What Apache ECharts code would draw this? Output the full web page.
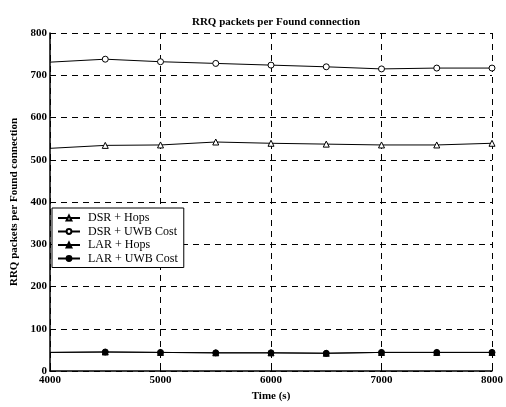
<!DOCTYPE html>
<html><head><meta charset="utf-8">
<script src="https://cdn.jsdelivr.net/npm/echarts@6/dist/echarts.min.js"></script>
<style>html,body{margin:0;padding:0;background:#fff}#c{width:506px;height:407px}</style>
</head><body><div id="c"></div>
<script>
const times = [4000, 4500, 5000, 5500, 6000, 6500, 7000, 7500, 8000];
const dsrHops = [527, 534, 535, 542, 539, 537, 535, 535, 539];
const dsrUwb = [731, 738, 732, 728, 724, 720, 715, 717, 717];
const larHops = [44, 45, 44, 43, 43, 42, 44, 44, 44];
const larUwb = [44, 45, 44, 43, 43, 42, 44, 44, 44];
const seriesNames = ['DSR + Hops', 'DSR + UWB Cost', 'LAR + Hops', 'LAR + UWB Cost'];

const font = 'Liberation Serif';
const pair = a => times.map((t, i) => [t, a[i]]);
function mk(name, data, symbol, filled) {
  return {
    name, type: 'line', data: pair(data), symbol, symbolSize: 6,
    showAllSymbol: true,
    lineStyle: { color: '#000', width: 1 },
    itemStyle: { color: filled ? '#000' : '#fff', borderColor: '#000', borderWidth: 1 },
    animation: false
  };
}
const series = [
  mk(seriesNames[0], dsrHops, 'triangle', false),
  mk(seriesNames[1], dsrUwb, 'circle', false),
  mk(seriesNames[2], larHops, 'triangle', true),
  mk(seriesNames[3], larUwb, 'circle', true)
];
series.forEach(s => { s.data[0] = { value: s.data[0], symbol: 'none' }; });

const chart = echarts.init(document.getElementById('c'), null, { renderer: 'canvas' });
chart.setOption({
  backgroundColor: '#fff',
  animation: false,
  title: {
    text: 'RRQ packets per Found connection', left: 271, top: 12, textAlign: 'center',
    textStyle: { fontFamily: font, fontSize: 11, fontWeight: 'bold', color: '#000' }
  },
  legend: {
    left: 52, top: 208, orient: 'vertical', itemGap: 1.5, itemWidth: 22, itemHeight: 6,
    padding: [4, 6, 3, 5], borderColor: '#000', borderWidth: 1, backgroundColor: '#fff',
    textStyle: { fontFamily: font, fontSize: 12, color: '#000', padding: [0, 0, 0, 3] },
    data: seriesNames
  },
  grid: { left: 50, right: 13, top: 33, bottom: 29, containLabel: false },
  xAxis: {
    type: 'value', min: 4000, max: 8000, interval: 1000,
    name: 'Time (s)', nameLocation: 'middle', nameGap: 20,
    nameTextStyle: { fontFamily: font, fontSize: 11, fontWeight: 'bold', color: '#000' },
    axisLine: { show: true, lineStyle: { color: '#000', width: 1.5 } },
    axisTick: { show: true, inside: true, length: 4, lineStyle: { color: '#000' } },
    axisLabel: { fontFamily: font, fontSize: 11, fontWeight: 'bold', color: '#000', margin: 4,
      formatter: v => String(v) },
    splitLine: { show: true, lineStyle: { color: '#000', type: [6, 5], width: 1 } }
  },
  yAxis: {
    type: 'value', min: 0, max: 800, interval: 100,
    name: 'RRQ packets per Found connection', nameLocation: 'middle', nameGap: 30,
    nameTextStyle: { fontFamily: font, fontSize: 11, fontWeight: 'bold', color: '#000' },
    axisLine: { show: true, lineStyle: { color: '#000', width: 1.5 } },
    axisTick: { show: true, inside: true, length: 4, lineStyle: { color: '#000' } },
    axisLabel: { fontFamily: font, fontSize: 11, fontWeight: 'bold', color: '#000', margin: 3,
      formatter: v => String(v) },
    splitLine: { show: true, lineStyle: { color: '#000', type: [6, 5], width: 1 } }
  },
  series
});
</script></body></html>
